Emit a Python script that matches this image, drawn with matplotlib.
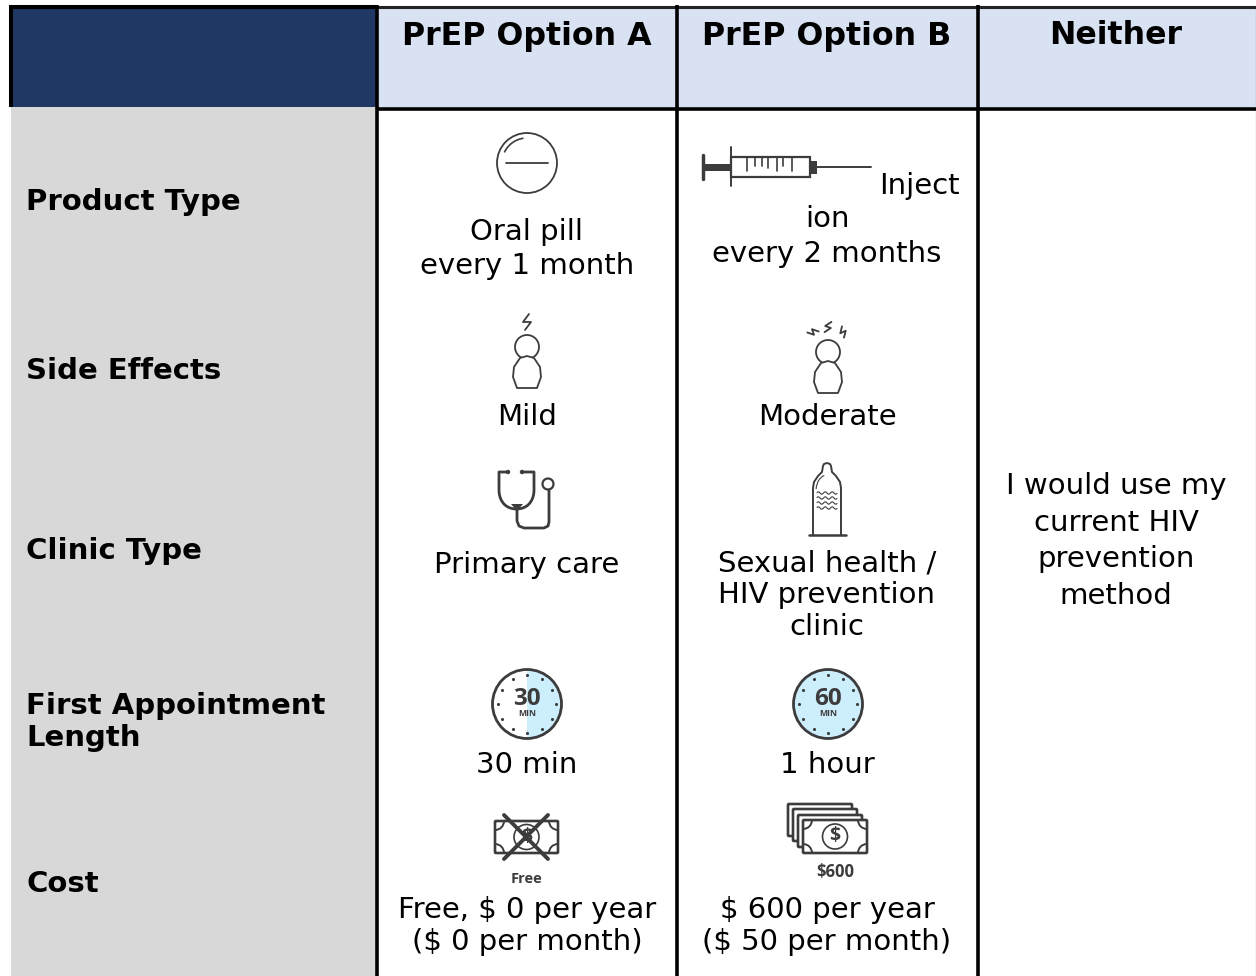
import matplotlib
matplotlib.use("Agg")
import matplotlib.pyplot as plt
from matplotlib.patches import Circle, Rectangle, Wedge, Arc, Polygon, FancyBboxPatch
import numpy as np

# table content
columns = ["PrEP Option A", "PrEP Option B", "Neither"]
attributes = ["Product Type", "Side Effects", "Clinic Type", "First Appointment\nLength", "Cost"]
attribute_y = [202, 371, 551, 722, 884]
option_a = ["Oral pill\nevery 1 month", "Mild", "Primary care", "30 min", "Free, \\$ 0 per year\n(\\$ 0 per month)"]
option_a_y = [249, 417, 565, 765, 926]
option_a_ls = [1.31, 1.2, 1.2, 1.2, 1.2]
option_b = ["every 2 months", "Moderate", "Sexual health /\nHIV prevention\nclinic", "1 hour", "\\$ 600 per year\n(\\$ 50 per month)"]
option_b_y = [254, 417, 595, 765, 926]
neither = "I would use my\ncurrent HIV\nprevention\nmethod"

NAVY = "#1f3864"
HEAD = "#d9e2f3"
GREY = "#d8d8d8"
ICON = "#3c3c3c"
BLUE = "#cdeefc"
FS = 21

fig = plt.figure(figsize=(12.56, 9.76), dpi=100)
ax = fig.add_axes([0, 0, 1, 1])
ax.set_xlim(0, 1256)
ax.set_ylim(976, 0)
ax.axis("off")

# cell fills
ax.add_patch(Rectangle((11, 6), 366, 101, fc=NAVY, ec="none"))
ax.add_patch(Rectangle((11, 107), 366, 869, fc=GREY, ec="none"))
ax.add_patch(Rectangle((377, 6), 879, 101, fc=HEAD, ec="none"))

# rules
ax.plot([9, 377], [7, 7], color="black", lw=2.9, solid_capstyle="butt")
ax.plot([377, 1256], [7, 7], color="#222222", lw=2.2, solid_capstyle="butt")
ax.plot([11, 11], [5, 107], color="black", lw=2.9, solid_capstyle="butt")
ax.plot([377, 1256], [108.5, 108.5], color="black", lw=2.6, solid_capstyle="butt")
ax.plot([1255.5, 1255.5], [6, 976], color="#555555", lw=0.8, solid_capstyle="butt")
for x in [377, 677, 978]:
    ax.plot([x, x], [5, 976], color="black", lw=2.6, solid_capstyle="butt")

# header text
for x, c in zip([527, 827, 1116], columns):
    ax.text(x, 36, c, ha="center", va="center", fontsize=22.8, fontweight="bold", color="black")

for y, a in zip(attribute_y, attributes):
    ax.text(26, y, a, ha="left", va="center", fontsize=FS, fontweight="bold", linespacing=1.2)

for y, t, ls in zip(option_a_y, option_a, option_a_ls):
    ax.text(527, y, t, ha="center", va="center", fontsize=FS, linespacing=ls)
for y, t in zip(option_b_y, option_b):
    ax.text(827, y, t, ha="center", va="center", fontsize=FS, linespacing=1.18)
ax.text(879, 186, "Inject", ha="left", va="center", fontsize=FS)
ax.text(827, 219, "ion", ha="center", va="center", fontsize=FS)
ax.text(1116, 541, neither, ha="center", va="center", fontsize=FS, linespacing=1.4)


def line(xs, ys, lw=1.5, color=ICON):
    ax.plot(xs, ys, color=color, lw=lw, solid_capstyle="round", solid_joinstyle="round")


def pill(cx, cy):
    ax.add_patch(Circle((cx, cy), 30, fc="white", ec=ICON, lw=1.3))
    ax.add_patch(Arc((cx, cy), 50, 50, theta1=205, theta2=262, ec=ICON, lw=1.2))
    line([cx - 21, cx + 21], [cy, cy], 1.3)


def syringe(x, y):
    line([x, x], [y - 12, y + 12], 2.5)
    ax.add_patch(Rectangle((x, y - 3.5), 28, 7, fc=ICON, ec="none"))
    line([x + 28, x + 28], [y - 20, y + 19], 1.4)
    ax.add_patch(Rectangle((x + 28, y - 10), 79, 20, fc="white", ec=ICON, lw=1.6))
    for xt, h in zip([44, 52, 59, 65, 74, 80, 89], [13, 8, 8, 10, 13, 8, 13]):
        line([x + xt, x + xt], [y - 9, y - 9 + h], 1.2)
    ax.add_patch(Rectangle((x + 107, y - 6.5), 7, 13, fc=ICON, ec="none"))
    line([x + 114, x + 168], [y, y], 1.4)


def person(cx, cy):
    ax.add_patch(Circle((cx, cy), 12, fc="white", ec=ICON, lw=1.3))
    t = np.array([[-7, 11], [-13, 20], [-14, 30], [-10, 41], [10, 41], [14, 30], [13, 20], [7, 11], [0, 9]])
    ax.add_patch(Polygon(t + [cx, cy], closed=True, fc="white", ec=ICON, lw=1.3, joinstyle="round"))


def bolt(cx, cy, w=4, h=8, rot=0):
    p = np.array([[w * 0.5, -h], [-w, 0], [w, 0], [-w * 0.5, h]], dtype=float)
    r = np.deg2rad(rot)
    R = np.array([[np.cos(r), -np.sin(r)], [np.sin(r), np.cos(r)]])
    p = p @ R.T + [cx, cy]
    line(p[:, 0], p[:, 1], 1.3)


def stethoscope(cx, cy):
    # earpieces and the Y of the tubing
    s = np.linspace(0, 1, 30)
    xl = cx - 27 + 18 * s ** 2
    yl = cy - 6 + 19 * np.sin(s * np.pi / 2)
    xr = cx + 8 - 18 * s ** 2
    yr = cy - 6 + 19 * np.sin(s * np.pi / 2)
    line(np.r_[cx - 18, cx - 27, cx - 27, xl], np.r_[cy - 24, cy - 24, cy - 6, yl], 2)
    line(np.r_[cx - 4, cx + 8, cx + 8, xr], np.r_[cy - 24, cy - 24, cy - 6, yr], 2)
    ax.add_patch(Circle((cx - 18, cy - 24), 2.2, fc=ICON, ec="none"))
    ax.add_patch(Circle((cx - 4, cy - 24), 2.2, fc=ICON, ec="none"))
    ax.add_patch(Polygon([[cx - 15, cy + 8], [cx - 3, cy + 8], [cx - 9, cy + 15]], fc=ICON, ec="none"))
    line([cx - 9, cx - 9, cx - 7, cx - 2, cx + 18, cx + 22, cx + 23, cx + 23],
         [cy + 12, cy + 25, cy + 30, cy + 32, cy + 32, cy + 30, cy + 26, cy - 6], 2)
    ax.add_patch(Circle((cx + 22, cy - 12), 5.5, fc="white", ec=ICON, lw=1.6))


def condom(cx, top, bottom):
    xs = [cx - 14, cx - 14, cx - 13, cx - 9, cx - 5, cx - 4, cx - 3, cx, cx + 3, cx + 4, cx + 5, cx + 9, cx + 13, cx + 14, cx + 14]
    ys = [bottom, top + 25, top + 19, top + 13, top + 9, top + 3, top + 1, top, top + 1, top + 3, top + 9, top + 13, top + 19, top + 25, bottom]
    line(xs, ys, 1.4)
    line([cx - 18, cx + 19], [bottom, bottom], 1.8)
    ax.add_patch(Arc((cx, top + 28), 22, 32, theta1=190, theta2=260, ec=ICON, lw=0.8))
    u = np.linspace(-10, 10, 30)
    for dy in [30, 35, 40, 45]:
        line(cx + u, top + dy + 1.2 * np.sin(u * 0.9), 0.8)


def timer(cx, cy, label, half):
    ax.add_patch(Circle((cx, cy), 34.5, fc="white", ec="none"))
    if half:
        ax.add_patch(Wedge((cx, cy), 34.5, -90, 90, fc=BLUE, ec="none"))
    else:
        ax.add_patch(Circle((cx, cy), 34.5, fc=BLUE, ec="none"))
    ax.add_patch(Circle((cx, cy), 34.5, fc="none", ec=ICON, lw=2))
    a = np.deg2rad(np.arange(0, 360, 30))
    ax.scatter(cx + 29 * np.cos(a), cy + 29 * np.sin(a), s=5, color=ICON, linewidths=0)
    ax.text(cx, cy - 5, label, ha="center", va="center", fontsize=17.5, fontweight="bold", color=ICON,
            family="Open Sans")
    ax.text(cx, cy + 10, "MIN", ha="center", va="center", fontsize=6.2, fontweight="bold", color=ICON,
            family="Open Sans")


def bill(x0, y0, x1, y1):
    ax.add_patch(FancyBboxPatch((x0, y0), x1 - x0, y1 - y0, boxstyle="round,pad=0,rounding_size=1",
                                fc="white", ec=ICON, lw=1.9))
    r = 9
    ax.add_patch(Arc((x0, y0), 2 * r, 2 * r, theta1=0, theta2=90, ec=ICON, lw=1.4))
    ax.add_patch(Arc((x1, y0), 2 * r, 2 * r, theta1=90, theta2=180, ec=ICON, lw=1.4))
    ax.add_patch(Arc((x0, y1), 2 * r, 2 * r, theta1=270, theta2=360, ec=ICON, lw=1.4))
    ax.add_patch(Arc((x1, y1), 2 * r, 2 * r, theta1=180, theta2=270, ec=ICON, lw=1.4))
    cx, cy = (x0 + x1) / 2, (y0 + y1) / 2
    ax.add_patch(Circle((cx, cy), 12.5, fc="white", ec=ICON, lw=1.2))
    ax.text(cx, cy, "\\$", ha="center", va="center", fontsize=14, fontweight="bold", color=ICON, family="Open Sans")


# icons
pill(527, 163)
syringe(703, 167)
person(527, 347)
bolt(527, 322, 4, 8)
person(828, 352)
bolt(813, 332, 3, 5.5, 70)
bolt(828, 327, 3, 6, 20)
bolt(843, 332, 3, 5.5, -25)
stethoscope(526, 496)
condom(827, 463, 535)
timer(527, 704, "30", True)
timer(828, 704, "60", False)

bill(495, 821, 558, 853)
ax.plot([504, 548], [815, 859], color=ICON, lw=2.8, solid_capstyle="round")
ax.plot([548, 504], [815, 859], color=ICON, lw=2.8, solid_capstyle="round")
ax.text(527, 879, "Free", ha="center", va="center", fontsize=10.5, fontweight="bold", color=ICON, family="Open Sans")

for off_x, off_y in [(0, 0), (5, 5), (10, 11)]:
    ax.add_patch(FancyBboxPatch((788 + off_x, 804 + off_y), 64, 32, boxstyle="round,pad=0,rounding_size=1",
                                fc="white", ec=ICON, lw=1.9))
bill(803, 820, 867, 853)
ax.text(835.5, 872, "\\$600", ha="center", va="center", fontsize=12, fontweight="bold", color=ICON, family="Open Sans")

fig.savefig("out.png", dpi=100)
